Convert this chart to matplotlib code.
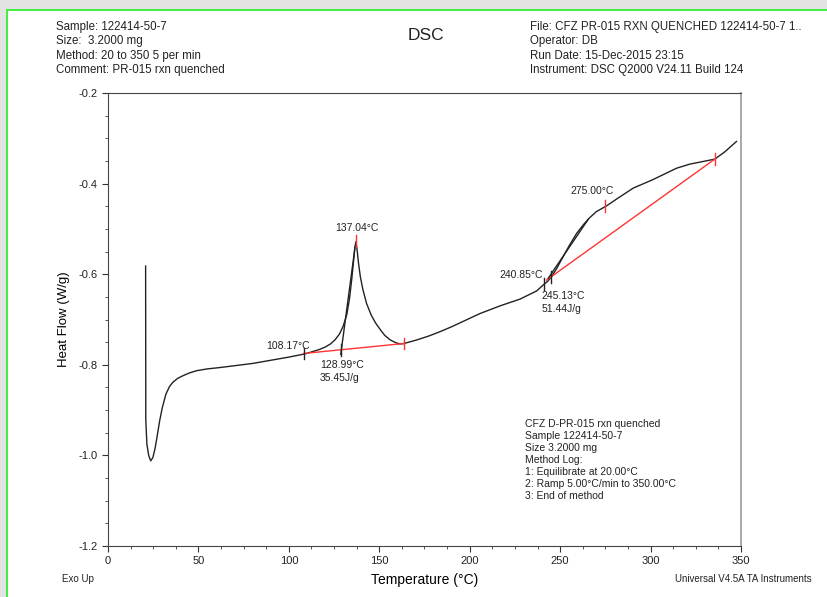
import matplotlib.pyplot as plt
from matplotlib.patches import Rectangle
from matplotlib.ticker import MultipleLocator

plt.rcParams['font.family'] = ['Liberation Sans', 'DejaVu Sans']

# DSC trace (temperature in degC, heat flow in W/g)
temperature = [20.8, 20.85, 20.9, 21.5, 22.5, 23.6, 24.8, 26.0, 27.0, 28.5, 30.0, 32.0,
               34.0, 36.0, 38.5, 41.5, 45, 49, 55, 62, 70, 80, 90, 100, 105, 108.9,
               113, 117, 120, 123, 125.5, 128, 130, 132, 133.5, 134.8, 135.8, 136.5,
               137.1, 137.7, 138.5, 139.5, 141, 143, 145.5, 148, 150.5, 153, 156, 159,
               161.5, 163.6, 170, 177, 183.5, 190, 197, 205.6, 216.7, 227.8, 237,
               240.6, 243, 245.3, 248, 251.7, 255, 259.1, 263, 266.4, 270, 275.7, 282,
               290.4, 301.4, 314.4, 321.7, 328, 335.5, 341, 347.5]
heat_flow = [-0.582, -0.75, -0.922, -0.975, -1.0, -1.012, -1.005, -0.985, -0.962, -0.925,
             -0.895, -0.865, -0.848, -0.838, -0.83, -0.824, -0.818, -0.813, -0.809,
             -0.806, -0.802, -0.797, -0.79, -0.783, -0.779, -0.776, -0.771, -0.766,
             -0.761, -0.754, -0.745, -0.732, -0.715, -0.69, -0.655, -0.61, -0.57, -0.54,
             -0.528, -0.545, -0.575, -0.605, -0.635, -0.665, -0.69, -0.708, -0.722,
             -0.735, -0.745, -0.751, -0.754, -0.753, -0.746, -0.737, -0.727, -0.716,
             -0.703, -0.687, -0.67, -0.655, -0.637, -0.624, -0.616, -0.605, -0.588,
             -0.561, -0.537, -0.51, -0.49, -0.475, -0.462, -0.449, -0.432, -0.41,
             -0.391, -0.366, -0.357, -0.352, -0.346, -0.33, -0.307]

# integration baselines (red) and onset tangents (black)
baseline1_t = [108.17, 163.6]
baseline1_hf = [-0.775, -0.753]
baseline2_t = [242.5, 335.5]
baseline2_hf = [-0.613, -0.346]
tangent1_t = [128.7, 136.6]
tangent1_hf = [-0.777, -0.54]
tangent2_t = [243.4, 265.5]
tangent2_hf = [-0.609, -0.479]

# analysis markers
marker_t = [108.17, 128.99, 137.04, 163.6, 240.85, 245.13, 275.0, 335.5]
marker_hf = [-0.775, -0.768, -0.527, -0.753, -0.622, -0.606, -0.449, -0.346]
marker_col = ['#222222', '#222222', '#ff3333', '#ff3333', '#222222', '#222222',
              '#ff3333', '#ff3333']

fig = plt.figure(figsize=(8.28, 5.97), dpi=100)
fig.patch.set_facecolor('#e3e3e3')
fig.patches.append(Rectangle((7 / 828, -0.1), 1.2, (597 - 10) / 597 + 0.1,
                             transform=fig.transFigure, facecolor='white',
                             edgecolor='#22ee22', linewidth=1.2, zorder=-5))

ax = fig.add_axes([108 / 828, 51 / 597, 633 / 828, 453 / 597])
ax.set_facecolor('none')
ax.plot(temperature, heat_flow, color='#222222', lw=1.0)
ax.plot(baseline1_t, baseline1_hf, color='#ff3333', lw=1.0)
ax.plot(baseline2_t, baseline2_hf, color='#ff3333', lw=1.0)
ax.plot(tangent1_t, tangent1_hf, color='#222222', lw=1.0)
ax.plot(tangent2_t, tangent2_hf, color='#222222', lw=1.0)
for t, h, c in zip(marker_t, marker_hf, marker_col):
    ax.plot([t, t], [h - 0.013, h + 0.013], color=c, lw=1.0)

lab = dict(fontsize=7.5, color='#222222')
ax.text(137.7, -0.498, '137.04°C', ha='center', va='center', **lab)
ax.text(111.5, -0.758, '108.17°C', ha='right', va='center', **lab)
ax.text(117.2, -0.79, '128.99°C\n35.45J/g', ha='left', va='top', linespacing=1.3, **lab)
ax.text(240.5, -0.602, '240.85°C', ha='right', va='center', **lab)
ax.text(239.9, -0.638, '245.13°C\n51.44J/g', ha='left', va='top', linespacing=1.3, **lab)
ax.text(267.5, -0.416, '275.00°C', ha='center', va='center', **lab)
ax.text(230.5, -0.92, 'CFZ D-PR-015 rxn quenched\nSample 122414-50-7\nSize 3.2000 mg\n'
        'Method Log:\n1: Equilibrate at 20.00°C\n2: Ramp 5.00°C/min to 350.00°C\n'
        '3: End of method', ha='left', va='top', linespacing=1.25, **lab)

ax.set_xlim(0, 350)
ax.set_ylim(-1.2, -0.2)
ax.xaxis.set_major_locator(MultipleLocator(50))
ax.xaxis.set_minor_locator(MultipleLocator(12.5))
ax.yaxis.set_major_locator(MultipleLocator(0.2))
ax.yaxis.set_minor_locator(MultipleLocator(0.05))
ax.yaxis.set_major_formatter(plt.FuncFormatter(lambda v, p: f'{v:.1f}'))
ax.tick_params(which='major', length=4, labelsize=8, color='#333333', labelcolor='#222222')
ax.tick_params(which='minor', length=2.5, color='#333333')
for s in ['left', 'bottom', 'top']:
    ax.spines[s].set_color('#444444')
ax.spines['right'].set_color('#999999')
ax.spines['right'].set_linewidth(1.2)

ax.set_ylabel('Heat Flow (W/g)', fontsize=9.5, labelpad=6)
ax.set_xlabel('Temperature (°C)', fontsize=10, labelpad=5)

hdr = dict(fontsize=8.3, color='#222222', va='center', linespacing=1.27)
fig.text(56 / 828, 1 - 48.5 / 597,
         'Sample: 122414-50-7\nSize:  3.2000 mg\nMethod: 20 to 350 5 per min\n'
         'Comment: PR-015 rxn quenched', ha='left', **hdr)
fig.text(530 / 828, 1 - 48.5 / 597,
         'File: CFZ PR-015 RXN QUENCHED 122414-50-7 1..\nOperator: DB\n'
         'Run Date: 15-Dec-2015 23:15\nInstrument: DSC Q2000 V24.11 Build 124', ha='left', **hdr)
fig.text(426 / 828, 1 - 36 / 597, 'DSC', ha='center', va='center', fontsize=12.5, color='#222222')
fig.text(62 / 828, 1 - 579 / 597, 'Exo Up', ha='left', va='center', fontsize=7, color='#222222')
fig.text(812 / 828, 1 - 579 / 597, 'Universal V4.5A TA Instruments', ha='right', va='center',
         fontsize=7, color='#222222')

fig.savefig('out.png', dpi=100, facecolor=fig.get_facecolor())
